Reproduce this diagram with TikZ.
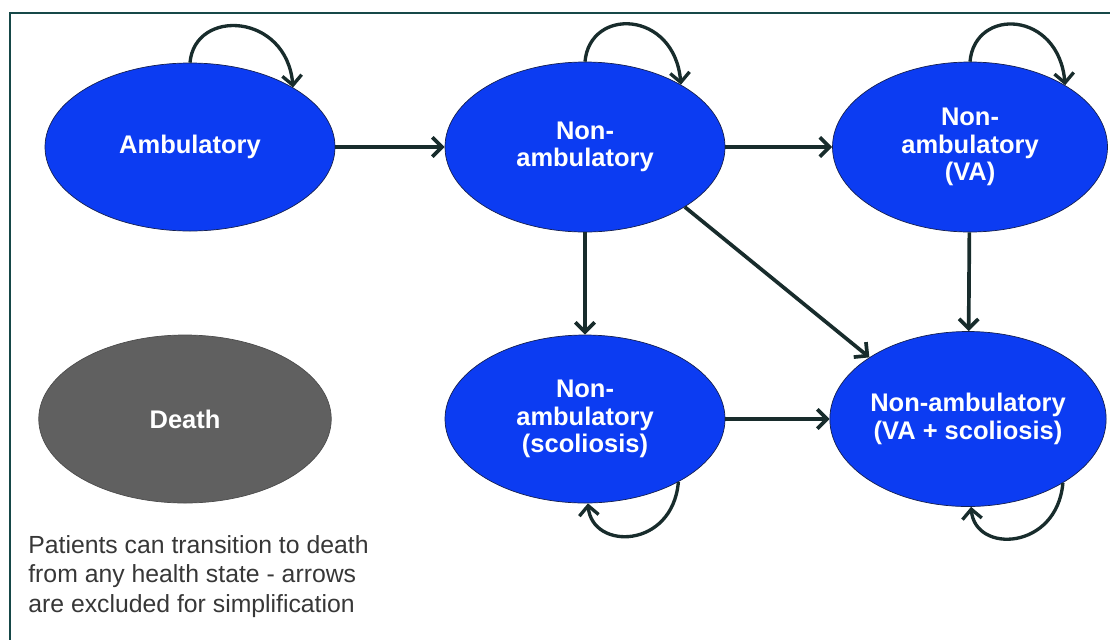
\documentclass[tikz,border=0pt]{standalone}
\usepackage{fontspec}
\setmainfont{Liberation Sans}
\usetikzlibrary{shapes.geometric, arrows.meta}
\definecolor{stateblue}{RGB}{12,60,242}
\definecolor{stateedge}{RGB}{20,32,80}
\definecolor{deathgray}{RGB}{96,96,96}
\definecolor{arrowcol}{RGB}{24,44,44}
\definecolor{framecol}{RGB}{22,72,72}
\definecolor{notegray}{RGB}{55,55,55}
\tikzstyle{state} = [ellipse, inner sep=0pt, minimum width=5.6cm, minimum height=3.4cm, align=center, draw=stateedge, fill=stateblue, text=white, font=\bfseries\fontsize{14.5}{15.5}\selectfont]
\tikzstyle{deadstate} = [state, fill=deathgray, draw=black!70]
\tikzstyle{connector} = [line width=2.1pt, draw=arrowcol, -{Straight Barb[length=5.5pt, width=11pt]}]
\tikzstyle{selfloop} = [connector, line width=1.9pt]
\tikzstyle{note} = [anchor=north west, inner sep=0pt, align=left, text=notegray, font=\fontsize{14.1}{16.8}\selectfont]

\begin{document}
\begin{tikzpicture}

  \clip (0,0) rectangle (22.2,-12.78);

  % Frame
  \draw[framecol, line width=1.5pt] (0.2,-0.26) rectangle (22.6,-13.2);

  % Top row
  \node (amb) at (3.8,-2.94) [state, minimum width=5.8cm, minimum height=3.36cm] {Ambulatory};
  \node (nonamb) at (11.7,-2.94) [state] {Non-\\ambulatory};
  \node (va) at (19.4,-2.94) [state, minimum width=5.5cm] {Non-\\ambulatory\\(VA)};

  % Bottom row
  \node (death) at (3.7,-8.38) [deadstate, minimum width=5.85cm, minimum height=3.36cm] {Death};
  \node (scol) at (11.7,-8.38) [state, minimum height=3.36cm] {Non-\\ambulatory\\(scoliosis)};
  \node (vascol) at (19.36,-8.38) [state, minimum width=5.5cm, minimum height=3.5cm] {Non-ambulatory\\(VA + scoliosis)};

  % Note
  \node (note) at (0.56,-10.7) [note] {Patients can transition to death\\from any health state - arrows\\are excluded for simplification};

  % Transitions
  \draw[connector] (amb) -- (nonamb);
  \draw[connector] (nonamb) -- (va);
  \draw[connector] (nonamb) -- (scol);
  \draw[connector] (nonamb.-31) -- (vascol.148);
  \draw[connector] (va) -- (vascol);
  \draw[connector] (scol) -- (vascol);

  % Staying in the same state
  \draw[selfloop] (amb.90) to[out=85, in=95, out distance=1.1cm, in distance=1.5cm] (amb.30);
  \draw[selfloop] (nonamb.90) to[out=85, in=95, out distance=1.1cm, in distance=1.5cm] (nonamb.33);
  \draw[selfloop] (va.90) to[out=85, in=95, out distance=1.1cm, in distance=1.5cm] (va.33);
  \draw[selfloop] (scol.-34) to[out=-95, in=-85, out distance=1.35cm, in distance=0.95cm] (scol.-88);
  \draw[selfloop] (vascol.-34) to[out=-95, in=-85, out distance=1.35cm, in distance=0.95cm] (vascol.-88);

\end{tikzpicture}
\end{document}
